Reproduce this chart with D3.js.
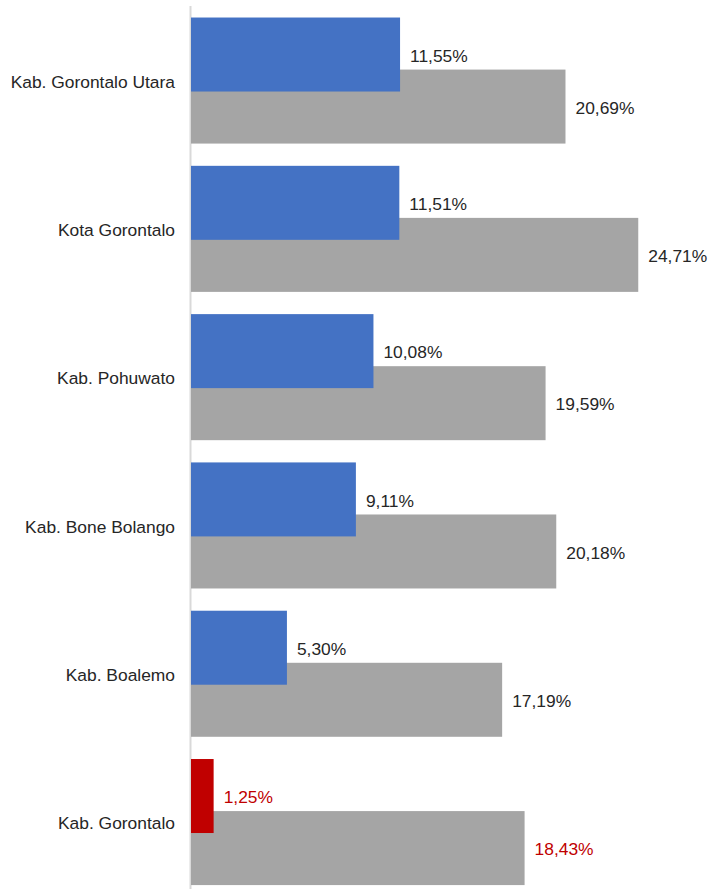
<!DOCTYPE html>
<html>
<head>
<meta charset="utf-8">
<script src="https://cdn.jsdelivr.net/npm/d3@7"></script>
<style>
  body { margin: 0; background: #fff; }
  text { font-family: "Liberation Sans", Arial, sans-serif; }
</style>
</head>
<body>
<svg id="chart"></svg>
<script>
const categories = ["Kab. Gorontalo Utara", "Kota Gorontalo", "Kab. Pohuwato", "Kab. Bone Bolango", "Kab. Boalemo", "Kab. Gorontalo"];
const seriesA = [11.55, 11.51, 10.08, 9.11, 5.30, 1.25];
const seriesB = [20.69, 24.71, 19.59, 20.18, 17.19, 18.43];
const highlight = "Kab. Gorontalo";

const width = 708;
const height = 889;
const fmt = v => d3.format(".2f")(v).replace(".", ",") + "%";

const svg = d3.select("#chart")
    .attr("width", width)
    .attr("height", height);

const xScale = d3.scaleLinear()
    .domain([0, 30])
    .range([191, 734]);

const yScale = d3.scaleBand()
    .domain(categories)
    .range([6.4, 896.2])
    .paddingInner(0.15)
    .paddingOuter(0.075);

const bw = yScale.bandwidth();
const barH = bw * 0.587;
const offB = bw * 0.413;

const data = categories.map((c, i) => ({ cat: c, a: seriesA[i], b: seriesB[i] }));

// axis line
svg.append("line")
    .attr("x1", xScale(0) - 0.5)
    .attr("x2", xScale(0) - 0.5)
    .attr("y1", 6)
    .attr("y2", height)
    .style("stroke", "#d9d9d9")
    .style("stroke-width", 2);

// gray bars
svg.selectAll(".barB")
    .data(data)
    .join("rect")
    .attr("class", "barB")
    .attr("x", xScale(0))
    .attr("y", d => yScale(d.cat) + offB)
    .attr("width", d => xScale(d.b) - xScale(0))
    .attr("height", barH)
    .style("fill", "#a5a5a5");

// blue bars
svg.selectAll(".barA")
    .data(data)
    .join("rect")
    .attr("class", "barA")
    .attr("x", xScale(0))
    .attr("y", d => yScale(d.cat))
    .attr("width", d => xScale(d.a) - xScale(0))
    .attr("height", barH)
    .style("fill", d => d.cat === highlight ? "#c00000" : "#4472c4");

// value labels
svg.selectAll(".labA")
    .data(data)
    .join("text")
    .attr("class", "labA")
    .attr("x", d => xScale(d.a) + 10)
    .attr("y", d => yScale(d.cat) + barH / 2 + 1)
    .attr("dy", "0.35em")
    .style("font-size", "17.4px")
    .style("fill", d => d.cat === highlight ? "#c00000" : "#262626")
    .text(d => fmt(d.a));

svg.selectAll(".labB")
    .data(data)
    .join("text")
    .attr("class", "labB")
    .attr("x", d => xScale(d.b) + 10)
    .attr("y", d => yScale(d.cat) + offB + barH / 2 + 1)
    .attr("dy", "0.35em")
    .style("font-size", "17.4px")
    .style("fill", d => d.cat === highlight ? "#c00000" : "#262626")
    .text(d => fmt(d.b));

// category labels
svg.selectAll(".cat")
    .data(categories)
    .join("text")
    .attr("class", "cat")
    .attr("text-anchor", "end")
    .attr("x", xScale(0) - 16)
    .attr("y", d => yScale(d) + bw / 2 + 1)
    .attr("dy", "0.35em")
    .style("font-size", "17.4px")
    .style("fill", "#262626")
    .text(d => d);
</script>
</body>
</html>
